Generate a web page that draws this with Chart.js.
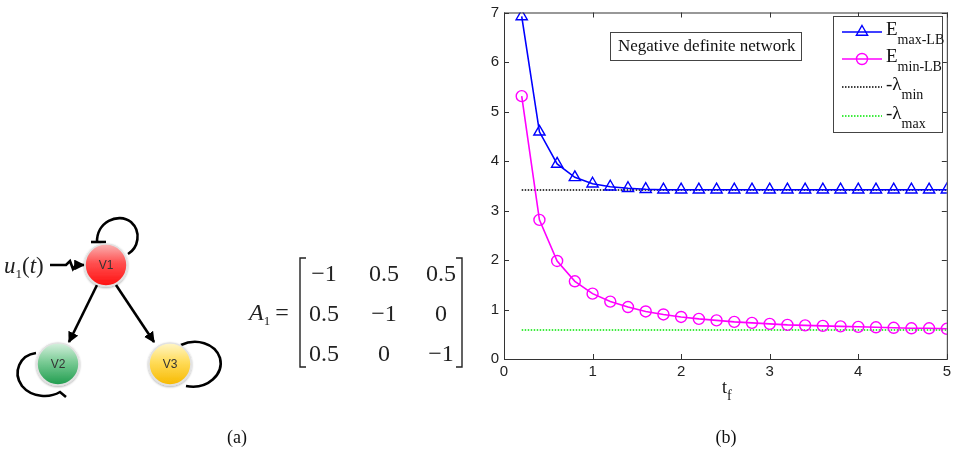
<!DOCTYPE html>
<html>
<head>
<meta charset="utf-8">
<script src="https://cdn.jsdelivr.net/npm/chart.js@4/dist/chart.umd.min.js"></script>
<style>
  html, body { margin: 0; padding: 0; background: #fff; }
  #wrap { position: relative; width: 955px; height: 455px; overflow: hidden; }
  #grafico { position: absolute; left: 0; top: 0; }
  #rede { position: absolute; left: 0; top: 0; }
</style>
</head>
<body>
<div id="wrap">
  <canvas id="grafico" width="955" height="455"></canvas>

  <!-- rede de 3 nós e a matriz A1 -->
  <svg id="rede" width="480" height="455" xmlns="http://www.w3.org/2000/svg">
    <defs>
      <linearGradient id="gV1" x1="0" y1="0" x2="0" y2="1">
        <stop offset="0" stop-color="#f9b4b4"/>
        <stop offset="0.45" stop-color="#ff5050"/>
        <stop offset="1" stop-color="#ff1010"/>
      </linearGradient>
      <linearGradient id="gV2" x1="0" y1="0" x2="0" y2="1">
        <stop offset="0" stop-color="#d6f0de"/>
        <stop offset="0.45" stop-color="#7acb95"/>
        <stop offset="1" stop-color="#1f9c4e"/>
      </linearGradient>
      <linearGradient id="gV3" x1="0" y1="0" x2="0" y2="1">
        <stop offset="0" stop-color="#fff6c8"/>
        <stop offset="0.45" stop-color="#ffdc5a"/>
        <stop offset="1" stop-color="#f7b900"/>
      </linearGradient>
      <marker id="seta" viewBox="0 0 10 10" refX="9" refY="5" markerWidth="4.2" markerHeight="4.2" orient="auto">
        <path d="M0,0 L10,5 L0,10 z" fill="#000"/>
      </marker>
      <filter id="sombra" x="-30%" y="-30%" width="160%" height="160%">
        <feDropShadow dx="0" dy="1" stdDeviation="1.2" flood-color="#000" flood-opacity="0.35"/>
      </filter>
    </defs>

    <g fill="none" stroke="#000" stroke-width="2.6">
      <!-- laço em V1 -->
      <path d="M97,243 C96,222 118,212 131,222 C142,232 138,248 128,254"/>
      <line x1="91" y1="242" x2="106" y2="242"/>
      <!-- laço em V2 -->
      <path d="M36,353 C20,355 12,372 22,386 C32,398 50,398 60,392 L66,397"/>
      <!-- laço em V3 -->
      <path d="M181,345 C196,338 215,343 220,358 C224,374 208,390 186,386"/>
      <!-- arestas -->
      <line x1="97" y1="285" x2="69" y2="342" marker-end="url(#seta)"/>
      <line x1="116" y1="285" x2="154" y2="342" marker-end="url(#seta)"/>
      <!-- entrada u1(t) -->
      <polyline points="50,265 66,265 70,261 73,269 76,265 84,265" marker-end="url(#seta)"/>
    </g>

    <g filter="url(#sombra)" stroke="#e2e2e2" stroke-width="1.6">
      <circle cx="106" cy="265" r="21" fill="url(#gV1)"/>
      <circle cx="58" cy="364" r="21" fill="url(#gV2)"/>
      <circle cx="170" cy="364" r="21" fill="url(#gV3)"/>
    </g>
    <g font-family="Liberation Sans, Arial, sans-serif" font-size="12" fill="#333" text-anchor="middle">
      <text x="106" y="269">V1</text>
      <text x="58" y="368">V2</text>
      <text x="170" y="368">V3</text>
    </g>

    <g font-family="Liberation Serif, Times New Roman, serif" fill="#222">
      <text x="4" y="273" font-size="23" font-style="italic">u<tspan font-size="13" font-style="normal" dy="5">1</tspan><tspan dy="-5" font-style="normal">(</tspan><tspan>t</tspan><tspan font-style="normal">)</tspan></text>
      <text x="249" y="320" font-size="24" font-style="italic">A<tspan font-size="13" font-style="normal" dy="5">1</tspan><tspan font-style="normal" dy="-5" dx="5">=</tspan></text>
    </g>
    <g fill="none" stroke="#222" stroke-width="1.4">
      <polyline points="306,258 300,258 300,367 306,367"/>
      <polyline points="456,258 462,258 462,367 456,367"/>
    </g>
    <g id="matriz" font-family="Liberation Serif, Times New Roman, serif" font-size="24" fill="#222" text-anchor="middle"></g>
  </svg>
</div>

<script>
// dados do gráfico (b)
const tempoFinal = [0.2, 0.4, 0.6, 0.8, 1.0, 1.2, 1.4, 1.6, 1.8, 2.0, 2.2, 2.4, 2.6,
                    2.8, 3.0, 3.2, 3.4, 3.6, 3.8, 4.0, 4.2, 4.4, 4.6, 4.8, 5.0];
const energiaMaxLB = [6.92, 4.59, 3.94, 3.67, 3.54, 3.48, 3.45, 3.43, 3.42, 3.42, 3.42, 3.42, 3.42,
                      3.42, 3.42, 3.42, 3.42, 3.42, 3.42, 3.42, 3.42, 3.42, 3.42, 3.42, 3.42];
const energiaMinLB = [5.31, 2.81, 1.98, 1.57, 1.32, 1.16, 1.05, 0.96, 0.90, 0.85, 0.81, 0.78, 0.75,
                      0.73, 0.71, 0.69, 0.68, 0.67, 0.66, 0.65, 0.64, 0.63, 0.62, 0.62, 0.61];
const lambdaMin = 3.414;
const lambdaMax = 0.586;
const ticksX = [0, 1, 2, 3, 4, 5];
const ticksY = [0, 1, 2, 3, 4, 5, 6, 7];

// matriz A1
const matrizA1 = [['\u22121', '0.5', '0.5'],
                  ['0.5', '\u22121', '0'],
                  ['0.5', '0', '\u22121']];

const fonteSerif = '"Liberation Serif", "Times New Roman", serif';
const fonteSans = '"Liberation Sans", Arial, sans-serif';

function montaMatriz() {
    const g = document.getElementById('matriz');
    const colunas = [324, 384, 441];
    const linhas = [281, 321, 361];
    for (let i = 0; i < 3; i++) {
        for (let j = 0; j < 3; j++) {
            const t = document.createElementNS('http://www.w3.org/2000/svg', 'text');
            t.setAttribute('x', colunas[j]);
            t.setAttribute('y', linhas[i]);
            t.textContent = matrizA1[i][j];
            g.appendChild(t);
        }
    }
}

function pontos(valores) {
    return tempoFinal.map((x, i) => ({ x: x, y: valores[i] }));
}

function linhaConstante(v) {
    return [{ x: tempoFinal[0], y: v }, { x: tempoFinal[tempoFinal.length - 1], y: v }];
}

// texto com subscrito, desenhado no canvas
function textoSub(ctx, x, y, base, sub, tam, tamSub, desc) {
    ctx.font = tam + 'px ' + fonteSerif;
    ctx.fillText(base, x, y);
    const w = ctx.measureText(base).width;
    ctx.font = tamSub + 'px ' + fonteSerif;
    ctx.fillText(sub, x + w, y + desc);
}

const moldura = {
    id: 'moldura',
    afterDatasetsDraw(chart) {
        const ctx = chart.ctx;
        const a = chart.chartArea;
        const sx = chart.scales.x, sy = chart.scales.y;
        ctx.save();
        ctx.strokeStyle = '#333';
        ctx.lineWidth = 1;
        ctx.strokeRect(a.left + 0.5, a.top + 0.5, a.right - a.left, a.bottom - a.top);
        ctx.beginPath();
        ticksX.forEach(v => {
            const px = Math.round(sx.getPixelForValue(v)) + 0.5;
            ctx.moveTo(px, a.bottom); ctx.lineTo(px, a.bottom - 5);
            ctx.moveTo(px, a.top); ctx.lineTo(px, a.top + 5);
        });
        ticksY.forEach(v => {
            const py = Math.round(sy.getPixelForValue(v)) + 0.5;
            ctx.moveTo(a.left, py); ctx.lineTo(a.left + 5, py);
            ctx.moveTo(a.right, py); ctx.lineTo(a.right - 5, py);
        });
        ctx.stroke();

        // caixa de anotação
        ctx.fillStyle = '#fff';
        ctx.fillRect(610, 32, 191, 28);
        ctx.strokeStyle = '#444';
        ctx.strokeRect(610.5, 32.5, 191, 28);
        ctx.fillStyle = '#111';
        ctx.textBaseline = 'alphabetic';
        ctx.textAlign = 'left';
        ctx.font = '17px ' + fonteSerif;
        ctx.fillText('Negative definite network', 618, 51);

        // legenda
        ctx.fillStyle = '#fff';
        ctx.fillRect(833, 16, 109, 116);
        ctx.strokeStyle = '#444';
        ctx.strokeRect(833.5, 16.5, 109, 116);
        const itens = chart.data.datasets;
        const ys = [32, 59, 87, 116];
        const textos = [['E', 'max-LB'], ['E', 'min-LB'], ['-\u03bb', 'min'], ['-\u03bb', 'max']];
        itens.forEach((ds, i) => {
            const y = ys[i];
            ctx.save();
            ctx.strokeStyle = ds.borderColor;
            ctx.lineWidth = ds.borderWidth;
            ctx.setLineDash(ds.borderDash || []);
            ctx.beginPath();
            ctx.moveTo(842, y); ctx.lineTo(882, y);
            ctx.stroke();
            ctx.restore();
            if (ds.pointRadius > 0) {
                ctx.save();
                ctx.strokeStyle = ds.borderColor;
                ctx.fillStyle = 'rgba(0,0,0,0)';
                ctx.lineWidth = ds.pointBorderWidth;
                Chart.helpers.drawPoint(ctx, {
                    pointStyle: ds.pointStyle, radius: ds.pointRadius,
                    borderWidth: ds.pointBorderWidth, rotation: 0
                }, 862, y);
                ctx.restore();
            }
            ctx.fillStyle = '#111';
            textoSub(ctx, 886, y + 3, textos[i][0], textos[i][1], 19, 14, 9);
        });

        // rótulo do eixo x e legenda do painel
        ctx.fillStyle = '#111';
        textoSub(ctx, 722, 393, 't', 'f', 18, 14, 7);
        ctx.textAlign = 'center';
        ctx.font = '18px ' + fonteSerif;
        ctx.fillText('(b)', 726, 443);
        ctx.fillText('(a)', 237, 443);
        ctx.restore();
    }
};

window.onload = function() {
    montaMatriz();

    const ctx = document.getElementById('grafico').getContext('2d');
    window.grafico = new Chart(ctx, {
        type: 'line',
        data: {
            datasets: [
                {
                    label: 'E max-LB',
                    data: pontos(energiaMaxLB),
                    borderColor: '#0000ff',
                    backgroundColor: 'rgba(0,0,0,0)',
                    borderWidth: 1.6,
                    pointStyle: 'triangle',
                    pointRadius: 6.5,
                    pointBorderWidth: 1.4,
                    order: 1
                },
                {
                    label: 'E min-LB',
                    data: pontos(energiaMinLB),
                    borderColor: '#ff00ff',
                    backgroundColor: 'rgba(0,0,0,0)',
                    borderWidth: 1.6,
                    pointStyle: 'circle',
                    pointRadius: 5.5,
                    pointBorderWidth: 1.4,
                    order: 2
                },
                {
                    label: '-lambda min',
                    data: linhaConstante(lambdaMin),
                    borderColor: '#000000',
                    borderWidth: 1.4,
                    borderDash: [1.5, 1.5],
                    pointRadius: 0,
                    order: 3
                },
                {
                    label: '-lambda max',
                    data: linhaConstante(lambdaMax),
                    borderColor: '#00e600',
                    borderWidth: 1.4,
                    borderDash: [1.5, 1.5],
                    pointRadius: 0,
                    order: 4
                }
            ]
        },
        options: {
            responsive: false,
            animation: false,
            layout: { padding: { left: 480, right: 6, top: 10, bottom: 0 } },
            plugins: { legend: { display: false }, tooltip: { enabled: false } },
            elements: { line: { tension: 0 } },
            scales: {
                x: {
                    type: 'linear', min: 0, max: 5,
                    grid: { display: false, drawTicks: false }, border: { display: false },
                    ticks: { stepSize: 1, padding: 4, color: '#222', font: { family: fonteSans, size: 15 }, maxRotation: 0 },
                    afterFit(scale) { scale.height = 96; }
                },
                y: {
                    min: 0, max: 7,
                    grid: { display: false, drawTicks: false }, border: { display: false },
                    ticks: { stepSize: 1, padding: 5, color: '#222', font: { family: fonteSans, size: 15, lineHeight: 1 } },
                    afterFit(scale) { scale.width = 24; }
                }
            }
        },
        plugins: [moldura]
    });
};
</script>
</body>
</html>
